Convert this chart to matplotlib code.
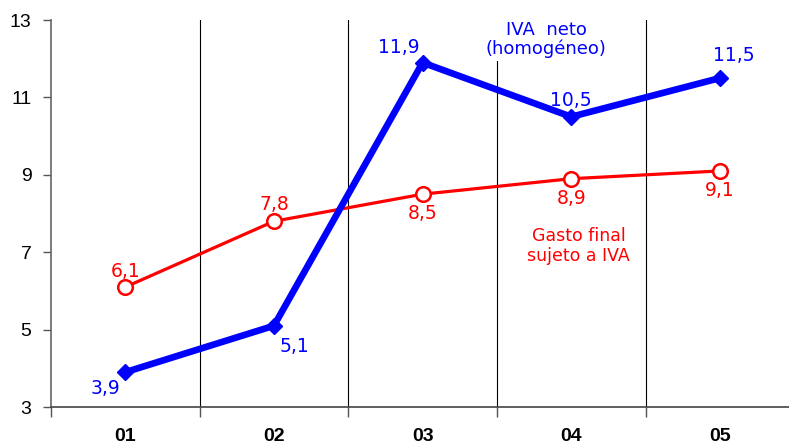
import matplotlib.pyplot as plt
from matplotlib.ticker import FixedLocator, NullFormatter

categories = ["01", "02", "03", "04", "05"]
iva_neto = [3.9, 5.1, 11.9, 10.5, 11.5]
gasto_final = [6.1, 7.8, 8.5, 8.9, 9.1]
iva_labels = ["3,9", "5,1", "11,9", "10,5", "11,5"]
gasto_labels = ["6,1", "7,8", "8,5", "8,9", "9,1"]

BLUE = "#0000FF"
RED = "#FF0000"
LABEL_FONT = "DejaVu Sans"


def main() -> None:
    fig = plt.figure(figsize=(7.89, 4.46), dpi=100)
    ax = fig.add_axes([0.0646, 0.0874, 0.942, 0.8677])

    x = list(range(len(categories)))
    ax.plot(x, gasto_final, color=RED, linewidth=2.3, marker="o",
            markersize=10.5, markerfacecolor="white", markeredgecolor=RED,
            markeredgewidth=1.8, zorder=4)
    ax.plot(x, iva_neto, color=BLUE, linewidth=4.8, marker="D",
            markersize=8.5, markerfacecolor=BLUE, markeredgecolor=BLUE, zorder=5)

    ax.set_xlim(-0.5, 4.5)
    ax.set_ylim(3, 13)
    ax.set_yticks([3, 5, 7, 9, 11, 13])

    ax.xaxis.set_major_locator(FixedLocator(x))
    ax.set_xticklabels(categories)
    ax.tick_params(axis="x", which="major", length=0, pad=15, labelsize=14)
    for lab in ax.get_xticklabels():
        lab.set_family("Liberation Sans")
        lab.set_fontweight("bold")
    ax.xaxis.set_minor_locator(FixedLocator([-0.5, 0.5, 1.5, 2.5, 3.5]))
    ax.xaxis.set_minor_formatter(NullFormatter())
    ax.tick_params(axis="x", which="minor", length=7, width=1, color="#555555")
    ax.tick_params(axis="y", length=6, width=1, color="#555555", pad=8,
                   labelsize=14)
    for lab in ax.get_yticklabels():
        lab.set_family("Liberation Sans")

    for b in [0.5, 1.5, 2.5, 3.5]:
        ax.axvline(b, color="black", linewidth=0.8, zorder=1)

    for side in ["top", "right"]:
        ax.spines[side].set_visible(False)
    ax.spines["left"].set_color("#666666")
    ax.spines["left"].set_linewidth(1.2)
    ax.spines["bottom"].set_color("#444444")
    ax.spines["bottom"].set_linewidth(1.2)

    # data labels, offsets in points
    iva_off = [(-14, -12), (15, -15), (-17, 11), (0, 12), (10, 16)]
    gasto_off = [(0, 11), (0, 12), (0, -14), (0, -14), (0, -14)]
    for i, (v, t) in enumerate(zip(iva_neto, iva_labels)):
        ax.annotate(t, (i, v), xytext=iva_off[i], textcoords="offset points",
                    ha="center", va="center", color=BLUE, fontsize=13.5,
                    family=LABEL_FONT, zorder=6)
    for i, (v, t) in enumerate(zip(gasto_final, gasto_labels)):
        ax.annotate(t, (i, v), xytext=gasto_off[i], textcoords="offset points",
                    ha="center", va="center", color=RED, fontsize=13.5,
                    family=LABEL_FONT, zorder=6)

    ax.text(2.83, 12.5, "IVA  neto\n(homogéneo)", color=BLUE, fontsize=13,
            family=LABEL_FONT, ha="center", va="center", linespacing=1.05,
            bbox=dict(facecolor="white", edgecolor="none", pad=2), zorder=3)
    ax.text(3.05, 7.15, "Gasto final\nsujeto a IVA", color=RED, fontsize=12.5,
            family=LABEL_FONT, ha="center", va="center", linespacing=1.15,
            bbox=dict(facecolor="white", edgecolor="none", pad=1), zorder=3)

    fig.savefig("out.png", dpi=100)
    plt.close(fig)


if __name__ == "__main__":
    main()
